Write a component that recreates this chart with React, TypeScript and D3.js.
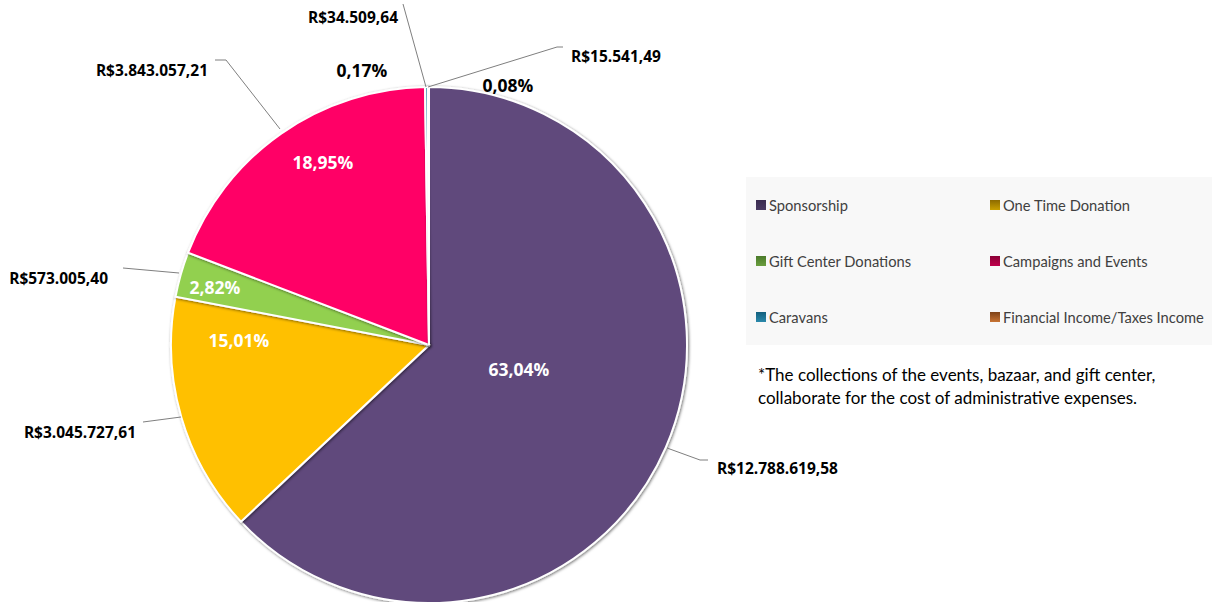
import React from "react";
import * as d3 from "d3";

const categories = [
  "Sponsorship",
  "One Time Donation",
  "Gift Center Donations",
  "Campaigns and Events",
  "Caravans",
  "Financial Income/Taxes Income",
];
const amounts = [12788619.58, 3045727.61, 573005.4, 3843057.21, 34509.64, 15541.49];
const amountLabels = [
  "R$12.788.619,58",
  "R$3.045.727,61",
  "R$573.005,40",
  "R$3.843.057,21",
  "R$34.509,64",
  "R$15.541,49",
];
const percentLabels = ["63,04%", "15,01%", "2,82%", "18,95%", "0,17%", "0,08%"];
const noteLines = [
  "*The collections of the events, bazaar, and gift center,",
  "collaborate for the cost of administrative expenses.",
];

const sliceColors = ["#604A7B", "#FFC000", "#92D050", "#FF0066", "#2E8BAA", "#C0692B"];
const legendTop = ["#3B2C50", "#8C6A00", "#4A7A2A", "#8A0036", "#13607E", "#7E4218"];
const legendBottom = ["#4A3A62", "#C9A000", "#6A9E3E", "#C0004C", "#2B89AB", "#C87434"];

// layout (not data)
const CX = 429;
const CY = 345;
const R = 258;
const pctLayout: { x: number; y: number; color: string }[] = [
  { x: 519, y: 369, color: "#fff" },
  { x: 239, y: 340, color: "#fff" },
  { x: 215, y: 287, color: "#fff" },
  { x: 323, y: 162, color: "#fff" },
  { x: 362, y: 70, color: "#000" },
  { x: 508, y: 85, color: "#000" },
];
const amtLayout: { x: number; y: number; anchor: string; line: [number, number][] }[] = [
  { x: 717, y: 468, anchor: "start", line: [[667, 448], [700, 460], [708, 460]] },
  { x: 136, y: 432, anchor: "end", line: [[181, 417], [143, 422]] },
  { x: 108, y: 278, anchor: "end", line: [[179, 273], [123, 268]] },
  { x: 208, y: 70, anchor: "end", line: [[280, 129], [226, 60], [215, 60]] },
  { x: 398, y: 17, anchor: "end", line: [[426, 87], [403, 4]] },
  { x: 571, y: 56, anchor: "start", line: [[428, 87], [557, 47], [563, 47]] },
];

export default function App() {
  const pie = d3.pie<number>().sort(null).value((d) => d)(amounts);
  const arc = d3.arc<d3.PieArcDatum<number>>().innerRadius(0).outerRadius(R);
  const labelFont = "'Open Sans', Lato, sans-serif";
  const legendFont = "Lato, 'Open Sans', sans-serif";
  const colX = [756, 990];
  const rowY = [205, 261, 317];
  return (
    <svg
      width={1212}
      height={602}
      style={{ position: "absolute", left: 0, top: 0, background: "#fff" }}
    >
      <defs>
        <filter id="sh" x="-20%" y="-20%" width="140%" height="140%">
          <feDropShadow dx="1" dy="1" stdDeviation="1.5" floodColor="#000" floodOpacity="0.55" />
        </filter>
        {categories.map((c, i) => (
          <linearGradient key={c} id={`lg${i}`} x1="0" y1="0" x2="0" y2="1">
            <stop offset="0" stopColor={legendTop[i]} />
            <stop offset="1" stopColor={legendBottom[i]} />
          </linearGradient>
        ))}
      </defs>
      <g transform={`translate(${CX},${CY})`}>
        {pie.map((p, i) => (
          <path
            key={i}
            d={arc(p) || ""}
            fill={sliceColors[i]}
            stroke="#fff"
            strokeWidth={2}
            filter="url(#sh)"
          />
        ))}
      </g>
      {amtLayout.map((a, i) => (
        <polyline
          key={"l" + i}
          points={a.line.map((p) => p.join(",")).join(" ")}
          fill="none"
          stroke="#7f7f7f"
          strokeWidth={1}
        />
      ))}
      {pctLayout.map((p, i) => (
        <text
          key={"p" + i}
          x={p.x}
          y={p.y}
          textAnchor="middle"
          dominantBaseline="central"
          fontFamily={labelFont}
          fontWeight="bold"
          fontSize={17.5}
          fill={p.color}
        >
          {percentLabels[i]}
        </text>
      ))}
      {amtLayout.map((a, i) => (
        <text
          key={"a" + i}
          x={a.x}
          y={a.y}
          textAnchor={a.anchor as any}
          dominantBaseline="central"
          fontFamily={labelFont}
          fontWeight="bold"
          fontSize={15.5}
          fill="#000"
        >
          {amountLabels[i]}
        </text>
      ))}
      <rect x={746} y={177} width={466} height={168} fill="#F8F8F8" />
      {categories.map((c, i) => {
        const x = colX[i % 2];
        const y = rowY[Math.floor(i / 2)];
        return (
          <g key={c}>
            <rect x={x} y={y - 5} width={10} height={10} fill={`url(#lg${i})`} />
            <text
              x={x + 13}
              y={y}
              dominantBaseline="central"
              fontFamily={legendFont}
              fontSize={14.7}
              fill="#404040"
            >
              {c}
            </text>
          </g>
        );
      })}
      {noteLines.map((t, i) => (
        <text
          key={t}
          x={758}
          y={374 + i * 23}
          dominantBaseline="central"
          fontFamily={legendFont}
          fontSize={17}
          fill="#000"
        >
          {t}
        </text>
      ))}
    </svg>
  );
}
